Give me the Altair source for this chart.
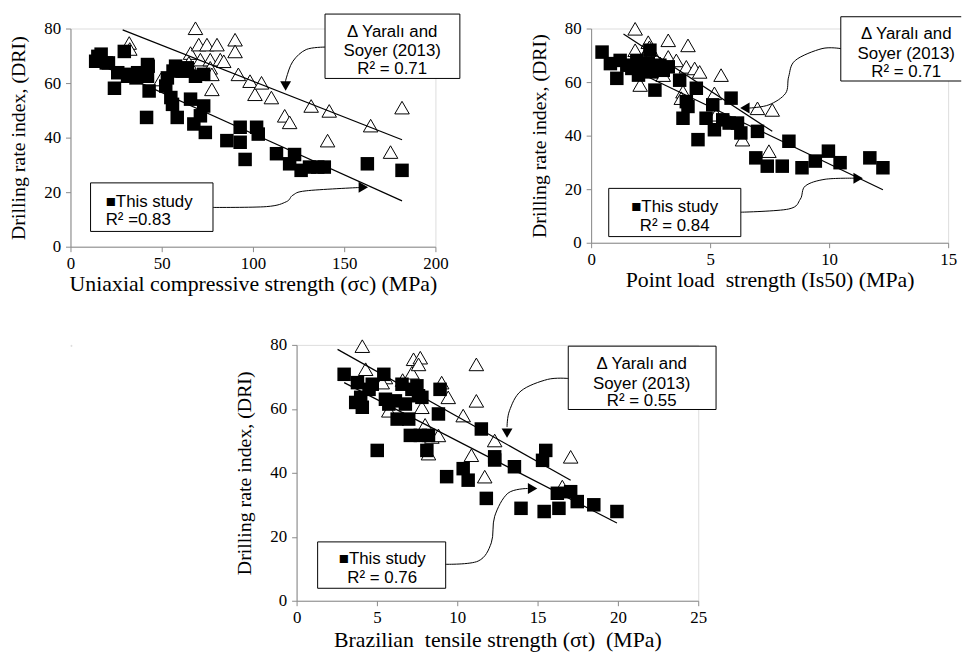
import altair as alt
import pandas as pd

SERIF = "Liberation Serif"
SANS = "Liberation Sans"

# ---------------- Panel 1: Uniaxial compressive strength ----------------
P1_STUDY_X = [13.8, 15.0, 16.8, 19.6, 20.8, 24.1, 25.9, 29.5, 31.3, 31.7, 35.9, 36.8, 42.2, 42.6, 42.2, 43.1,
              41.7, 52.2, 53.1, 55.0, 55.9, 58.5, 57.6, 56.2, 61.2, 62.5, 64.0, 65.8, 68.5, 67.6, 71.2, 73.0,
              73.9, 73.0, 85.7, 93.0, 93.0, 95.7, 102.0, 102.9, 112.9, 122.8, 120.1, 126.4, 131.0, 135.5,
              139.1, 162.7, 181.7]
P1_STUDY_Y = [68.0, 69.8, 70.6, 67.4, 67.4, 58.1, 63.8, 71.6, 62.5, 63.2, 61.9, 63.8, 66.8, 66.2, 62.5, 57.1,
              47.4, 58.9, 61.9, 54.7, 52.2, 47.4, 66.2, 64.4, 64.4, 64.4, 65.6, 54.1, 62.5, 45.0, 48.0, 51.6,
              41.9, 63.2, 38.9, 43.8, 38.3, 32.0, 43.8, 41.3, 34.1, 33.8, 30.4, 28.0, 29.2, 29.2,
              29.2, 30.4, 28.0]
P1_YAR_X = [32.2, 32.5, 49.5, 68.5, 65.8, 64.9, 70.3, 71.2, 74.8, 76.6, 76.6, 77.5, 77.5, 80.3, 82.1, 84.0,
            90.2, 90.2, 92.0, 98.4, 101.1, 104.7, 110.1, 117.4, 120.1, 131.9, 141.8, 140.9, 164.5, 175.4, 181.7]
P1_YAR_Y = [74.7, 72.5, 61.3, 80.1, 71.0, 67.4, 74.1, 68.6, 74.1, 68.6, 65.6, 63.2, 57.7, 74.1, 68.6, 68.0,
            75.9, 71.6, 63.2, 60.7, 55.9, 60.1, 54.7, 48.0, 45.6, 51.6, 49.8, 38.9, 44.4, 34.7, 51.0]
P1_FIT = {"Yaralı": [(28.6, 79.5), (181.7, 39.2)], "This study": [(14.0, 67.4), (181.7, 16.8)]}

# ---------------- Panel 2: Point load strength ----------------
P2_STUDY_X = [0.46, 0.81, 1.08, 1.22, 1.50, 1.71, 1.92, 1.99, 2.19, 2.47, 2.40, 2.54, 2.68, 2.89, 3.03, 3.24,
              3.72, 3.86, 4.00, 4.07, 4.42, 4.49, 4.83, 5.11, 5.18, 5.53, 5.80, 5.88, 6.15, 6.29, 6.99, 6.92,
              7.40, 8.03, 8.31, 8.86, 9.42, 9.97, 10.46, 11.71, 12.26]
P2_STUDY_Y = [71.2, 66.9, 61.4, 68.1, 66.3, 65.1, 68.1, 62.6, 65.7, 71.9, 66.9, 63.8, 57.0, 66.3, 64.4, 65.7,
              60.7, 46.5, 52.7, 50.9, 57.7, 38.5, 46.5, 51.5, 42.2, 45.9, 44.7, 54.0, 44.7, 41.0, 41.6, 31.7,
              28.6, 28.6, 37.9, 28.0, 30.5, 34.2, 29.9, 31.7, 28.0]
P2_YAR_X = [1.85, 1.85, 2.06, 2.40, 2.45, 2.68, 3.03, 3.24, 3.24, 3.58, 3.86, 3.79, 4.07, 4.00, 4.35, 4.56,
            5.18, 5.46, 5.25, 6.36, 6.99, 7.61, 7.47, 2.20, 2.90]
P2_YAR_Y = [79.9, 71.9, 58.9, 74.9, 73.0, 69.4, 62.6, 75.6, 69.4, 68.1, 56.4, 54.0, 73.7, 65.7, 65.1, 63.8,
            55.8, 62.6, 47.8, 38.5, 50.2, 49.6, 34.2, 69.0, 67.0]
P2_FIT = {"Yaralı": [(1.36, 78.0), (7.61, 41.6)], "This study": [(0.4, 70.4), (12.26, 19.8)]}

# ---------------- Panel 3: Brazilian tensile strength ----------------
P3_STUDY_X = [2.96, 3.79, 3.68, 4.09, 3.99, 4.51, 4.71, 5.02, 5.43, 5.53, 5.74, 6.15, 6.26, 6.56, 6.77, 6.98,
              7.08, 7.18, 7.49, 7.59, 7.70, 7.80, 8.11, 8.21, 8.83, 8.93, 9.34, 10.37, 10.68, 11.50, 11.81,
              12.33, 12.33, 13.56, 13.97, 15.31, 15.51, 15.41, 16.23, 16.33, 17.06, 17.47, 18.50, 19.94]
P3_STUDY_Y = [70.8, 68.2, 62.0, 60.5, 63.6, 66.1, 67.7, 47.0, 70.8, 63.0, 61.5, 62.5, 56.8, 67.7, 61.5, 56.8,
              51.7, 66.1, 67.2, 64.1, 51.7, 63.6, 47.0, 51.7, 58.4, 66.1, 38.8, 41.3, 37.7, 53.7, 32.0,
              45.0, 44.0, 41.9, 28.9, 43.9, 47.0, 27.9, 33.6, 28.9, 34.1, 31.0, 30.0, 27.9]
P3_YAR_X = [4.09, 4.30, 5.53, 5.74, 5.33, 7.18, 7.28, 7.70, 7.59, 7.80, 8.21, 8.42, 8.83, 9.03, 9.44, 10.37,
            10.88, 11.19, 11.19, 11.71, 12.33, 16.54, 17.06, 6.60, 8.00]
P3_YAR_Y = [79.6, 72.4, 69.8, 59.4, 68.2, 71.3, 75.5, 76.0, 73.9, 60.5, 46.0, 51.2, 51.7, 68.2, 63.6, 57.9,
            45.5, 73.9, 62.5, 38.8, 50.1, 35.7, 45.0, 69.0, 55.0]
P3_FIT = {"Yaralı": [(2.55, 78.6), (17.06, 37.7)], "This study": [(2.96, 68.2), (19.94, 24.3)]}

# ---------------- Annotation texts ----------------
YAR_LINES = ["Δ Yaralı and", "Soyer (2013)"]
P1_R2 = ["R² = 0.71", "R² =0.83"]
P2_R2 = ["R² = 0.71", "R² = 0.84"]
P3_R2 = ["R² = 0.55", "R² = 0.76"]

X_TITLES = ["Uniaxial compressive strength (σc) (MPa)",
            "Point load \u00a0strength (Is50) (MPa)",
            "Brazilian \u00a0tensile strength (σt) \u00a0(MPa)"]
Y_TITLE = "Drilling rate index, (DRI)"


def make_panel(sx, sy, tx, ty, fit, width, height, xmax, xvals, xtitle, xtitle_size,
               boxes, texts, arrows, heads, xtitle_pad=2, xlabel_pad=4):
    xs = alt.Scale(domain=[0, xmax], nice=False, zero=False)
    ys = alt.Scale(domain=[0, 80], nice=False, zero=False)
    common = dict(labelFont=SERIF, labelFontSize=17, labelColor="black",
                  titleFont=SERIF, titleFontWeight="normal", titleColor="black",
                  domainColor="#8a8a8a", tickColor="#8a8a8a", tickSize=5, grid=False,
                  labelFlush=False, labelOverlap=False)
    xaxis = alt.Axis(values=xvals, title=xtitle, titleFontSize=xtitle_size,
                     labelPadding=xlabel_pad, titlePadding=xtitle_pad, **common)
    yaxis = alt.Axis(values=[0, 20, 40, 60, 80], title=Y_TITLE, titleFontSize=20,
                     labelPadding=5, titlePadding=15, **common)
    X = alt.X("x:Q", scale=xs, axis=xaxis)
    Y = alt.Y("y:Q", scale=ys, axis=yaxis)

    tri = alt.Chart(pd.DataFrame({"x": tx, "y": ty})).mark_point(
        shape="triangle-up", filled=True, fill="white", stroke="black", strokeWidth=1,
        size=215, opacity=1).encode(x=X, y=Y)
    sq = alt.Chart(pd.DataFrame({"x": sx, "y": sy})).mark_square(
        size=185, color="black", opacity=1).encode(x=X, y=Y)

    fit_rows = []
    for name, pts in fit.items():
        for i, (a, b) in enumerate(pts):
            fit_rows.append({"s": name, "o": i, "x": a, "y": b})
    fits = alt.Chart(pd.DataFrame(fit_rows)).mark_line(color="black", strokeWidth=1.2).encode(
        x=X, y=Y, detail="s:N", order="o:Q")

    box_fill_rows, box_line_rows = [], []
    for bi, (x1, x2, y1, y2, open_right) in enumerate(boxes):
        box_fill_rows.append({"x": x1, "x2": x2, "y": y1, "y2": y2})
        if open_right:
            pts = [(x2, y1), (x1, y1), (x1, y2), (x2, y2)]
        else:
            pts = [(x1, y1), (x2, y1), (x2, y2), (x1, y2), (x1, y1)]
        for k, (a, b) in enumerate(pts):
            box_line_rows.append({"b": bi, "o": k, "x": a, "y": b})
    bfill = alt.Chart(pd.DataFrame(box_fill_rows)).mark_rect(color="white", opacity=1).encode(
        x=X, x2="x2:Q", y=Y, y2="y2:Q")
    bline = alt.Chart(pd.DataFrame(box_line_rows)).mark_line(color="black", strokeWidth=1).encode(
        x=X, y=Y, detail="b:N", order="o:Q")

    text_layers = []
    for align in ["left", "center"]:
        rows = [{"x": a, "y": b, "t": t} for (a, b, t, al) in texts if al == align]
        if rows:
            text_layers.append(alt.Chart(pd.DataFrame(rows)).mark_text(
                font=SANS, fontSize=17, color="black", align=align, baseline="middle").encode(
                x=X, y=Y, text="t:N"))

    arrow_rows = []
    for ai, pts in enumerate(arrows):
        for k, (a, b) in enumerate(pts):
            arrow_rows.append({"a": ai, "o": k, "x": a, "y": b})
    arr = alt.Chart(pd.DataFrame(arrow_rows)).mark_line(
        color="black", strokeWidth=1, interpolate="cardinal").encode(
        x=X, y=Y, detail="a:N", order="o:Q")
    hd = alt.Chart(pd.DataFrame([{"x": a, "y": b, "sh": s} for (a, b, s) in heads])).mark_point(
        filled=True, color="black", opacity=1, size=120).encode(
        x=X, y=Y, shape=alt.Shape("sh:N", scale=None))

    return alt.layer(tri, sq, fits, bfill, bline, *text_layers, arr, hd).properties(
        width=width, height=height)


p1 = make_panel(
    P1_STUDY_X, P1_STUDY_Y, P1_YAR_X, P1_YAR_Y, P1_FIT, 368, 220, 200, [0, 50, 100, 150, 200],
    X_TITLES[0], 22,
    boxes=[(139.5, 213.4, 85.3, 61.7, False), (11.0, 78.1, 23.4, 5.6, False)],
    texts=[(176.3, 78.6, YAR_LINES[0], "center"), (176.3, 71.6, YAR_LINES[1], "center"),
           (176.3, 65.0, P1_R2[0], "center"),
           (19.3, 16.5, "■This study", "left"), (19.3, 9.8, P1_R2[1], "left")],
    arrows=[[(139.5, 73.2), (129.2, 72.3), (121.9, 68.0), (118.3, 61.9), (117.9, 60.0)],
            [(78.1, 14.4), (107.4, 14.7), (118.3, 16.5), (121.9, 18.9), (129.2, 20.5), (158.2, 21.7)]],
    heads=[(117.9, 58.9, "triangle-down"), (160.5, 21.8, "triangle-right")])

p2 = make_panel(
    P2_STUDY_X, P2_STUDY_Y, P2_YAR_X, P2_YAR_Y, P2_FIT, 360, 216, 15, [0, 5, 10, 15],
    X_TITLES[1], 22,
    boxes=[(10.49, 15.55, 84.4, 60.4, True), (0.74, 6.29, 20.3, 2.3, False)],
    texts=[(13.24, 78.0, YAR_LINES[0], "center"), (13.24, 70.6, YAR_LINES[1], "center"),
           (13.24, 63.8, P2_R2[0], "center"),
           (3.51, 13.2, "■This study", "center"), (3.51, 6.4, P2_R2[1], "center")],
    arrows=[[(10.49, 72.5), (9.70, 72.5), (8.58, 68.1), (8.30, 62.0), (8.17, 55.8), (7.47, 51.5),
             (6.64, 50.3)],
            [(6.29, 11.4), (8.30, 12.6), (8.79, 16.3), (9.0, 21.2), (9.83, 23.7), (11.08, 24.1)]],
    heads=[(6.46, 50.3, "triangle-left"), (11.22, 24.1, "triangle-right")])

p3 = make_panel(
    P3_STUDY_X, P3_STUDY_Y, P3_YAR_X, P3_YAR_Y, P3_FIT, 405, 258, 25, [0, 5, 10, 15, 20, 25],
    X_TITLES[2], 22,
    boxes=[(16.91, 26.11, 79.6, 59.8, False), (1.31, 9.28, 18.4, 3.9, False)],
    texts=[(21.48, 73.9, YAR_LINES[0], "center"), (21.48, 67.9, YAR_LINES[1], "center"),
           (21.48, 62.3, P3_R2[0], "center"),
           (5.33, 12.9, "■This study", "center"), (5.33, 7.2, P3_R2[1], "center")],
    arrows=[[(16.91, 69.5), (15.62, 69.2), (13.97, 65.6), (13.25, 59.4), (13.10, 54.3)],
            [(9.28, 11.4), (11.30, 12.4), (12.12, 18.1), (12.33, 26.4), (13.15, 33.6), (14.38, 35.1)]],
    heads=[(13.10, 52.4, "triangle-down"), (14.69, 35.1, "triangle-right")],
    xtitle_pad=4, xlabel_pad=4)

spacer = alt.Chart(pd.DataFrame({"x": [0]})).mark_text(text=" ", opacity=0).encode(
    x=alt.X("x:Q", axis=None), y=alt.Y("x:Q", axis=None)).properties(width=1, height=1)

row1 = alt.hconcat(p1, p2, spacing=157, bounds="flush")
row2 = alt.hconcat(spacer, p3, spacing=227, bounds="flush")
chart = alt.vconcat(row1, row2, spacing=40).properties(
    padding={"left": 0, "top": 0, "right": 0, "bottom": 0}
).configure_view(strokeWidth=0, stroke="transparent").configure(background="white")

chart.save("out.html", embed_options={"renderer": "svg", "actions": False})
